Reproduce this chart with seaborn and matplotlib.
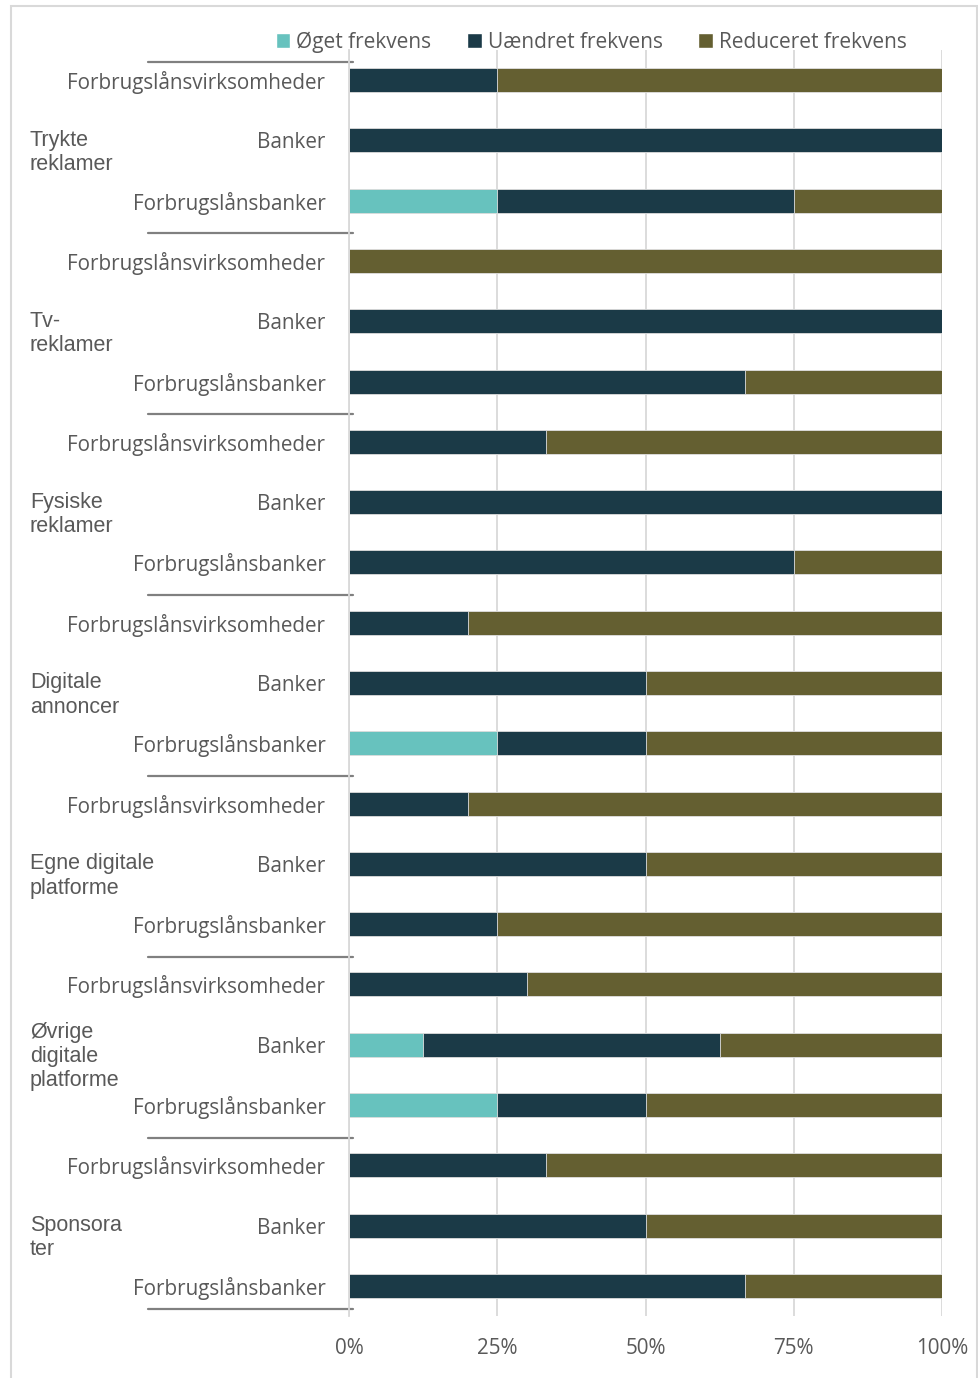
import matplotlib.pyplot as plt
from matplotlib.patches import Patch, Rectangle
import matplotlib.transforms as mtransforms
import seaborn as sns
import numpy as np
import pandas as pd

# data (shares of respondents)
groups = ['Trykte\nreklamer', 'Tv-\nreklamer', 'Fysiske\nreklamer', 'Digitale\nannoncer',
          'Egne digitale\nplatforme', 'Øvrige\ndigitale\nplatforme', 'Sponsora\nter']
segments = ['Forbrugslånsvirksomheder', 'Banker', 'Forbrugslånsbanker']
series = ['Øget frekvens', 'Uændret frekvens', 'Reduceret frekvens']

oeget = [0, 0, 0.25,
         0, 0, 0,
         0, 0, 0,
         0, 0, 0.25,
         0, 0, 0,
         0, 0.125, 0.25,
         0, 0, 0]
uaendret = [0.25, 1, 0.5,
            0, 1, 0.667,
            0.333, 1, 0.75,
            0.2, 0.5, 0.25,
            0.2, 0.5, 0.25,
            0.3, 0.5, 0.25,
            0.333, 0.5, 0.667]
reduceret = [0.75, 0, 0.25,
             1, 0, 0.333,
             0.667, 0, 0.25,
             0.8, 0.5, 0.5,
             0.8, 0.5, 0.75,
             0.7, 0.375, 0.5,
             0.667, 0.5, 0.333]

colors = ['#67C2BE', '#1B3A47', '#645F31']
text_col = '#595959'
grid_col = '#D9D9D9'

rows = [f'{g}|{s}' for g in groups for s in segments]
df = pd.DataFrame({'row': rows, 'oeget': oeget, 'uaendret': uaendret, 'reduceret': reduceret})
df['c1'] = df['oeget']
df['c2'] = df['c1'] + df['uaendret']
df['c3'] = df['c2'] + df['reduceret']

sns.set_theme(style='white')
plt.rcParams['font.family'] = ['Open Sans', 'DejaVu Sans']

fig = plt.figure(figsize=(9.79, 13.78), dpi=100)
ax = fig.add_axes([349 / 979, 1 - 1316 / 1378, 593 / 979, 1266 / 1378])

# stacked bars via cumulative overlap
for col, c in zip(['c3', 'c2', 'c1'], colors[::-1]):
    sns.barplot(data=df, x=col, y='row', order=rows, color=c, width=0.4,
                edgecolor='#E0E0E0', linewidth=0.6, saturation=1, ax=ax)

ax.set_xlim(0, 1)
ax.set_ylim(len(rows) - 0.5, -0.5)
ax.set_xticks([0, 0.25, 0.5, 0.75, 1])
ax.set_xticklabels(['0%', '25%', '50%', '75%', '100%'])
ax.xaxis.grid(True, color=grid_col, linewidth=1.3)
ax.set_axisbelow(True)
ax.set_yticks(range(len(rows)))
ax.set_yticklabels([s for g in groups for s in segments])
ax.tick_params(axis='y', length=0, pad=17, labelsize=14.9, labelcolor=text_col)
ax.tick_params(axis='x', length=0, pad=16, labelsize=14.9, labelcolor=text_col)
ax.set_xlabel('')
ax.set_ylabel('')
for sp in ['top', 'right', 'bottom']:
    ax.spines[sp].set_visible(False)
ax.spines['left'].set_color(grid_col)
ax.spines['left'].set_linewidth(1.3)

# group separators and group labels
trans = mtransforms.blended_transform_factory(ax.transAxes, ax.transData)
n = len(groups)
for i in range(n + 1):
    yb = i * 3 - 0.5
    if i == 0:
        yb += 0.2
    elif i == n:
        yb -= 0.12
    else:
        yb += 0.04
    ax.plot([-0.339, 0.006], [yb, yb], color='#808080', lw=1.6, transform=trans, clip_on=False)
lab_trans = mtransforms.blended_transform_factory(fig.transFigure, ax.transData)
for i, g in enumerate(groups):
    fig.text(30 / 979, i * 3 + 1 + 0.2, g, transform=lab_trans, ha='left', va='center',
             fontsize=15.5, color=text_col, family=['Liberation Sans'], linespacing=1.2)

handles = [Patch(facecolor=c, label=l) for c, l in zip(colors, series)]
fig.legend(handles=handles, loc='center', bbox_to_anchor=(0.604, 1 - 42 / 1378), ncol=3,
           frameon=False, fontsize=15, handlelength=0.7, handleheight=0.7,
           handletextpad=0.3, columnspacing=1.7, labelcolor=text_col)

fig.patches.append(Rectangle((11 / 979, -0.01), 0.987, 1 - 6 / 1378 + 0.01, transform=fig.transFigure,
                             fill=False, edgecolor=grid_col, linewidth=1.5))

fig.savefig('out.png', dpi=100)
